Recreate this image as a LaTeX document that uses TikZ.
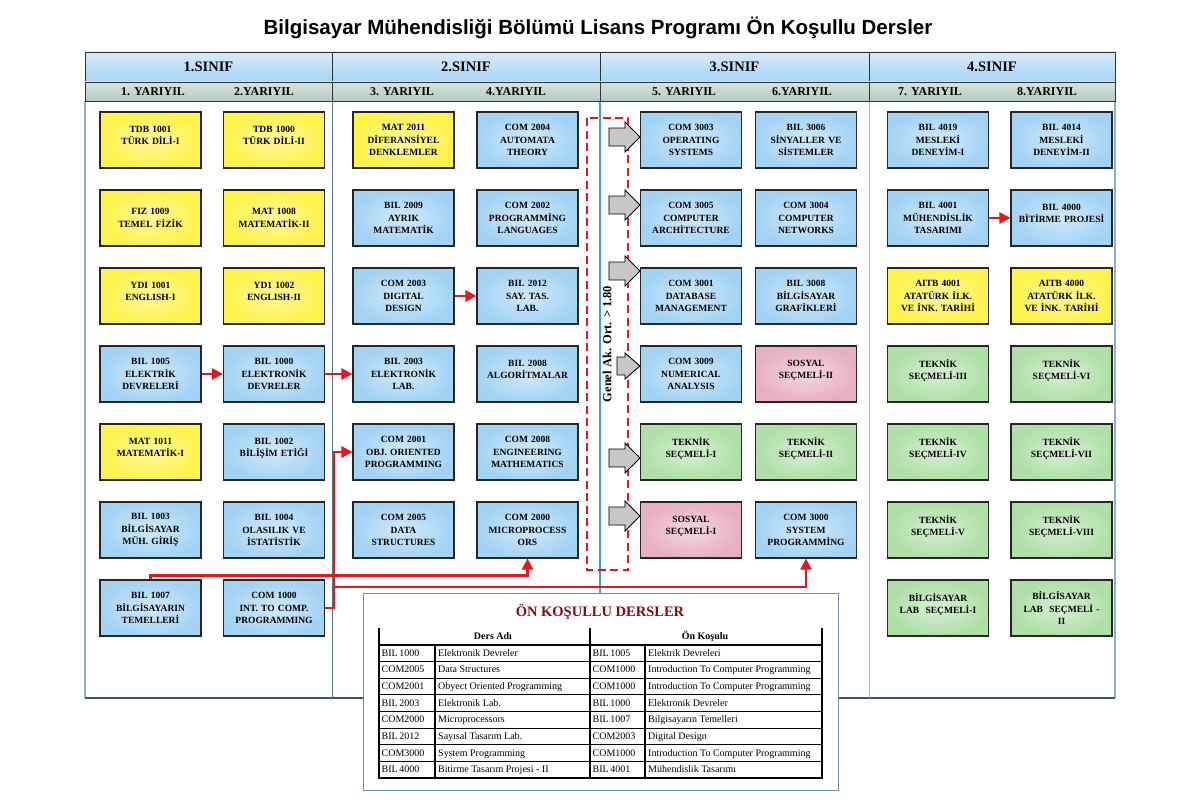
\documentclass[tikz,border=0pt]{standalone}
\usepackage{fontspec}
\setmainfont{Liberation Serif}
\newfontfamily\titlesans{Liberation Sans}
\usetikzlibrary{arrows.meta,calc}
\definecolor{boxblue}{HTML}{A3D3F4}
\definecolor{boxyellow}{HTML}{FFF24A}
\definecolor{boxgreen}{HTML}{AEDFA6}
\definecolor{boxpink}{HTML}{E8AFC3}
\definecolor{hdrblue}{HTML}{A6D3F4}
\definecolor{hdrgray}{HTML}{B3CCC3}
\definecolor{arrred}{HTML}{E5161C}
\definecolor{tblred}{HTML}{8B0A0A}
\definecolor{framegray}{HTML}{8EB0CC}
\definecolor{framedark}{HTML}{3D5570}
\definecolor{divblue}{HTML}{3E9FE0}
\newcommand\xline{\\[-3pt]\mbox{}}
\begin{document}
\begin{tikzpicture}[x=1pt,y=-1pt,
  crs/.style={draw=black!85, line width=1.1pt, minimum width=101pt, minimum height=56pt,
    inner sep=0pt, align=center, text width=97pt, font=\fontsize{9.5}{12.5}\selectfont\bfseries},
  cb/.style={crs, inner color=boxblue!50!white, outer color=boxblue},
  cy/.style={crs, inner color=boxyellow!55!white, outer color=boxyellow},
  cg/.style={crs, inner color=boxgreen!50!white, outer color=boxgreen},
  cp/.style={crs, inner color=boxpink!50!white, outer color=boxpink},
  hdra/.style={draw=black!80, line width=0.9pt, top color=hdrblue!45!white, bottom color=hdrblue,
    minimum height=30pt, inner sep=0pt, font=\bfseries\fontsize{14.5}{16}\selectfont},
  hdrb/.style={draw=black!80, line width=0.9pt, top color=hdrgray!55!white, bottom color=hdrgray,
    minimum height=19pt, inner sep=0pt},
  semlbl/.style={inner sep=0pt, font=\bfseries\fontsize{12}{14}\selectfont},
  redarr/.style={draw=arrred, line width=2.6pt, -{Triangle[length=11pt,width=11pt]}},
  grayarr/.style={draw=black, line width=0.9pt, fill=black!22},
  tline/.style={draw=black, line width=1.1pt},
  tcell/.style={inner sep=0pt, anchor=west, text height=7pt, text depth=2pt, font=\fontsize{10}{12}\selectfont},
  thead/.style={inner sep=0pt, text height=7pt, text depth=2pt, font=\bfseries\fontsize{10}{12}\selectfont}
]
\useasboundingbox (0,0) rectangle (1200,800);
\fill[white] (0,0) rectangle (1200,800);

% title
\node[font=\titlesans\bfseries\fontsize{20.5}{22}\selectfont] (title) at (598,28)
  {Bilgisayar Mühendisliği Bölümü Lisans Programı Ön Koşullu Dersler};

% body frame
\draw[framegray, line width=1.2pt] (85,101) -- (85,698);
\draw[framegray, line width=1.2pt] (1115,101) -- (1115,698);
\draw[framedark, line width=1.2pt] (85,698) -- (1115,698);
\draw[black!35!framegray, line width=0.8pt] (332,101) -- (332,698);
\draw[black!30, line width=0.8pt] (869,101) -- (869,698);
\draw[divblue, line width=1.2pt] (600,101) -- (600,593);

% headers
\node[hdra, minimum width=247pt] (h1) at (208.5,67) {1.SINIF};
\node[hdra, minimum width=268pt] (h2) at (466,67) {2.SINIF};
\node[hdra, minimum width=269pt] (h3) at (734.5,67) {3.SINIF};
\node[hdra, minimum width=246pt] (h4) at (992,67) {4.SINIF};
\node[hdrb, minimum width=247pt] (g1) at (208.5,91.5) {};
\node[hdrb, minimum width=268pt] (g2) at (466,91.5) {};
\node[hdrb, minimum width=269pt] (g3) at (734.5,91.5) {};
\node[hdrb, minimum width=246pt] (g4) at (992,91.5) {};
\node[semlbl] (y1) at (153,92) {1. YARIYIL};
\node[semlbl] (y2) at (264,92) {2.YARIYIL};
\node[semlbl] (y3) at (402,92) {3. YARIYIL};
\node[semlbl] (y4) at (516,92) {4.YARIYIL};
\node[semlbl] (y5) at (684,92) {5. YARIYIL};
\node[semlbl] (y6) at (802,92) {6.YARIYIL};
\node[semlbl] (y7) at (930,92) {7. YARIYIL};
\node[semlbl] (y8) at (1047,92) {8.YARIYIL};

% prerequisite table
\node[draw=framegray!80!black, line width=1pt, fill=white, minimum width=475pt, minimum height=197pt,
  inner sep=0pt] (tbl) at (600.5,691.5) {};
\node[font=\bfseries\fontsize{14.5}{16}\selectfont, text=tblred, inner sep=0pt] (ttitle) at (600,612)
  {ÖN KOŞULLU DERSLER};
\draw[tline] (379,628) -- (379,778) -- (822,778) -- (822,628);
\draw[tline] (590,628) -- (590,778);
\draw[tline] (435,645) -- (435,778);
\draw[tline] (645,645) -- (645,778);
\foreach \yy in {645,661.6,678.3,694.9,711.5,728.1,744.8,761.4}
  \draw[tline] (379,\yy) -- (822,\yy);
\node[thead] (th1) at (493,637) {Ders Adı};
\node[thead] (th2) at (705,637) {Ön Koşulu};
\foreach \ca/\cb/\cc/\cd [count=\i] in {
  BIL\,1000/Elektronik Devreler/BIL\,1005/Elektrik Devreleri,
  COM2005/Data Structures/COM1000/Introduction To Computer Programming,
  COM2001/Obyect Oriented Programming/COM1000/Introduction To Computer Programming,
  BIL\,2003/Elektronik Lab./BIL\,1000/Elektronik Devreler,
  COM2000/Microprocessors/BIL\,1007/Bilgisayarın Temelleri,
  BIL\,2012/Sayısal Tasarım Lab./COM2003/Digital Design,
  COM3000/System Programming/COM1000/Introduction To Computer Programming,
  BIL\,4000/Bitirme Tasarım Projesi - II/BIL\,4001/Mühendislik Tasarımı}
{
  \pgfmathsetmacro\ry{645+16.625*(\i-0.5)+0.5}
  \node[tcell] (ta\i) at (381.5,\ry) {\ca};
  \node[tcell] (tb\i) at (438,\ry) {\cb};
  \node[tcell] (tc\i) at (592.5,\ry) {\cc};
  \node[tcell] (td\i) at (648,\ry) {\cd};
}

% course boxes: column 1
\node[cy] (b11) at (150.5,140) {TDB 1001\\TÜRK DİLİ-I\xline};
\node[cy] (b12) at (150.5,218) {FIZ 1009\\TEMEL FİZİK};
\node[cy] (b13) at (150.5,296) {YDI 1001\\ENGLISH-I\xline};
\node[cb] (b14) at (150.5,374) {BIL 1005\\ELEKTRİK\\DEVRELERİ};
\node[cy] (b15) at (150.5,452) {MAT 1011\\MATEMATİK-I\xline};
\node[cb] (b16) at (150.5,530) {BIL 1003\\BİLGİSAYAR\\MÜH. GİRİŞ};
\node[cb] (b17) at (150.5,608) {BIL 1007\\BİLGİSAYARIN\\TEMELLERİ};
% column 2
\node[cy] (b21) at (274,140) {TDB 1000\\TÜRK DİLİ-II\xline};
\node[cy] (b22) at (274,218) {MAT 1008\\MATEMATİK-II};
\node[cy] (b23) at (274,296) {YD1 1002\\ENGLISH-II\xline};
\node[cb] (b24) at (274,374) {BIL 1000\\ELEKTRONİK\\DEVRELER};
\node[cb] (b25) at (274,452) {BIL 1002\\BİLİŞİM ETİĞİ\xline};
\node[cb] (b26) at (274,530) {BIL 1004\\OLASILIK VE\\İSTATİSTİK};
\node[cb] (b27) at (274,608) {COM 1000\\INT. TO COMP.\\PROGRAMMING};
% column 3
\node[cy] (b31) at (403.5,140) {MAT 2011\\DİFERANSİYEL\\DENKLEMLER};
\node[cb] (b32) at (403.5,218) {BIL 2009\\AYRIK\\MATEMATİK};
\node[cb] (b33) at (403.5,296) {COM 2003\\DIGITAL\\DESIGN};
\node[cb] (b34) at (403.5,374) {BIL 2003\\ELEKTRONİK\\LAB.};
\node[cb] (b35) at (403.5,452) {COM 2001\\OBJ. ORIENTED\\PROGRAMMING};
\node[cb] (b36) at (403.5,530) {COM 2005\\DATA\\STRUCTURES};
% column 4
\node[cb] (b41) at (527.5,140) {COM 2004\\AUTOMATA\\THEORY};
\node[cb] (b42) at (527.5,218) {COM 2002\\PROGRAMMİNG\\LANGUAGES};
\node[cb] (b43) at (527.5,296) {BIL 2012\\SAY. TAS.\\LAB.};
\node[cb] (b44) at (527.5,374) {BIL 2008\\ALGORİTMALAR\xline};
\node[cb] (b45) at (527.5,452) {COM 2008\\ENGINEERING\\MATHEMATICS};
\node[cb] (b46) at (527.5,530) {COM 2000\\MICROPROCESS\\ORS};
% column 5
\node[cb] (b51) at (691,140) {COM 3003\\OPERATING\\SYSTEMS};
\node[cb] (b52) at (691,218) {COM 3005\\COMPUTER\\ARCHİTECTURE};
\node[cb] (b53) at (691,296) {COM 3001\\DATABASE\\MANAGEMENT};
\node[cb] (b54) at (691,374) {COM 3009\\NUMERICAL\\ANALYSIS};
\node[cg] (b55) at (691,452) {TEKNİK\\SEÇMELİ-I\xline};
\node[cp] (b56) at (691,530) {SOSYAL\\SEÇMELİ-I\xline};
% column 6
\node[cb] (b61) at (806,140) {BIL 3006\\SİNYALLER VE\\SİSTEMLER};
\node[cb] (b62) at (806,218) {COM 3004\\COMPUTER\\NETWORKS};
\node[cb] (b63) at (806,296) {BIL 3008\\BİLGİSAYAR\\GRAFİKLERİ};
\node[cp] (b64) at (806,374) {SOSYAL\\SEÇMELİ-II\xline};
\node[cg] (b65) at (806,452) {TEKNİK\\SEÇMELİ-II\xline};
\node[cb] (b66) at (806,530) {COM 3000\\SYSTEM\\PROGRAMMİNG};
% column 7
\node[cb] (b71) at (938,140) {BIL 4019\\MESLEKİ\\DENEYİM-I};
\node[cb] (b72) at (938,218) {BIL 4001\\MÜHENDİSLİK\\TASARIMI};
\node[cy] (b73) at (938,296) {AITB 4001\\ATATÜRK İLK.\\VE İNK. TARİHİ};
\node[cg] (b74) at (938,374) {TEKNİK\\SEÇMELİ-III\xline};
\node[cg] (b75) at (938,452) {TEKNİK\\SEÇMELİ-IV\xline};
\node[cg] (b76) at (938,530) {TEKNİK\\SEÇMELİ-V\xline};
\node[cg] (b77) at (938,608) {BİLGİSAYAR\\LAB~ SEÇMELİ-I\xline};
% column 8
\node[cb] (b81) at (1061.5,140) {BIL 4014\\MESLEKİ\\DENEYİM-II};
\node[cb] (b82) at (1061.5,218) {BIL 4000\\BİTİRME PROJESİ\xline};
\node[cy] (b83) at (1061.5,296) {AITB 4000\\ATATÜRK İLK.\\VE İNK. TARİHİ};
\node[cg] (b84) at (1061.5,374) {TEKNİK\\SEÇMELİ-VI\xline};
\node[cg] (b85) at (1061.5,452) {TEKNİK\\SEÇMELİ-VII\xline};
\node[cg] (b86) at (1061.5,530) {TEKNİK\\SEÇMELİ-VIII\xline};
\node[cg] (b87) at (1061.5,608) {BİLGİSAYAR\\LAB~ SEÇMELİ -\\II};

% GPA condition
\draw[arrred, line width=2.6pt, dash pattern=on 8pt off 4.5pt] (587,118) rectangle (628,570);
\node[rotate=90, inner sep=0pt, font=\bfseries\fontsize{12.5}{14}\selectfont] (gpa) at (607,344)
  {Genel Ak. Ort. > 1.80};

% grey block arrows into semester 5
\foreach \n/\dy/\tl/\hh in {b51/-3/31/15, b52/-13/31/15, b53/-25/31/15, b54/-8/23/13, b55/6/31/15, b56/-14/31/15}
  \draw[grayarr, shift={(\n.west)}] (-\tl,\dy-9) -- (-15,\dy-9) -- (-15,\dy-\hh) -- (0,\dy)
     -- (-15,\dy+\hh) -- (-15,\dy+9) -- (-\tl,\dy+9) -- cycle;

% prerequisite connectors
\draw[redarr] (b14.east) -- (b24.west);
\draw[redarr] (b24.east) -- (b34.west);
\draw[redarr] (b33.east) -- (b43.west);
\draw[redarr] (b72.east) -- (b82.west);
\coordinate (j1) at ($(b27.east)+(9,0)$);
\coordinate (j2) at (j1 |- 0,587);
\coordinate (j3) at ($(b17.north)+(0,-4)$);
\draw[redarr] (b27.east) -- (j1) |- (b35.west);
\draw[redarr] (j2) -| (b66.south);
\draw[redarr] (b17.north) -- (j3) -| (b46.south);
\end{tikzpicture}
\end{document}
